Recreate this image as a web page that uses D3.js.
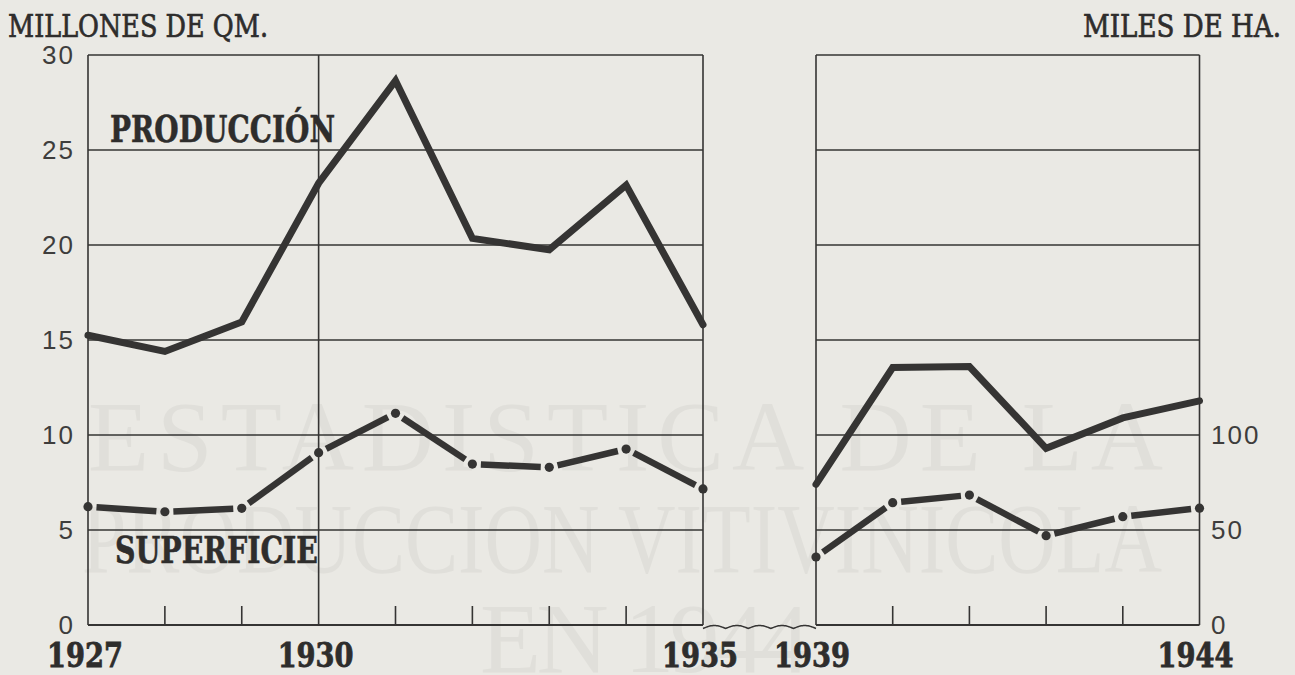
<!DOCTYPE html>
<html>
<head>
<meta charset="utf-8">
<script src="https://cdn.jsdelivr.net/npm/d3@7"></script>
<style>
  body { margin: 0; background: #eae9e4; }
  svg { display: block; }
</style>
</head>
<body>
<div id="vis"></div>
<script>
// data
const yearsA = [1927, 1928, 1929, 1930, 1931, 1932, 1933, 1934, 1935];
const yearsB = [1939, 1940, 1941, 1942, 1943, 1944];
const produccionA = [15.25, 14.4, 15.95, 23.25, 28.65, 20.35, 19.75, 23.15, 15.8];   // millones de qm
const produccionB = [7.4, 13.55, 13.6, 9.3, 10.9, 11.8];
const superficieA = [62.3, 59.6, 61.4, 90.7, 111.4, 84.7, 83.0, 92.6, 71.6];          // miles de ha
const superficieB = [35.8, 64.4, 68.4, 47.0, 57.0, 61.5];
const leftTicks = [0, 5, 10, 15, 20, 25, 30];
const rightTicks = [0, 50, 100];
const yearLabels = [1927, 1930, 1935, 1939, 1944];

const WIDTH = 1295, HEIGHT = 675;
const INK = "#353433";

const svg = d3.select("#vis").append("svg")
  .attr("width", WIDTH).attr("height", HEIGHT);

svg.append("rect").attr("width", WIDTH).attr("height", HEIGHT).attr("fill", "#eae9e4");

// faint show-through text from the other side of the page
const wm = svg.append("g").attr("fill", "#e0dfda")
  .attr("font-family", "Liberation Serif, serif").attr("font-size", 100);
wm.append("text").attr("x", 88).attr("y", 470).attr("textLength", 1075)
  .attr("lengthAdjust", "spacing").text("ESTADISTICA DE LA");
wm.append("text").attr("x", 82).attr("y", 572).attr("textLength", 1080)
  .attr("lengthAdjust", "spacingAndGlyphs").text("PRODUCCION VITIVINICOLA");
wm.append("text").attr("x", 480).attr("y", 672).attr("textLength", 330)
  .attr("lengthAdjust", "spacing").text("EN 1944");

const xA = d3.scaleLinear().domain([1927, 1935]).range([88, 703]);
const xB = d3.scaleLinear().domain([1939, 1944]).range([816, 1199.5]);
const y = d3.scaleLinear().domain([0, 30]).range([625, 55]);
const yHa = d3.scaleLinear().domain([0, 300]).range([625, 55]);

// panels: grid, frame, ticks
function panel(x, years, midLines) {
  const g = svg.append("g").attr("stroke", INK).attr("fill", "none");
  const [x0, x1] = x.range();
  g.selectAll(".h").data(leftTicks.filter(d => d > 0)).join("line")
    .attr("x1", x0).attr("x2", x1)
    .attr("y1", d => y(d)).attr("y2", d => y(d))
    .attr("stroke-width", 1.6);
  g.append("line").attr("x1", x0).attr("x2", x1).attr("y1", y(0)).attr("y2", y(0)).attr("stroke-width", 1.8);
  g.selectAll(".v").data([x.domain()[0], x.domain()[1]].concat(midLines)).join("line")
    .attr("x1", d => x(d)).attr("x2", d => x(d))
    .attr("y1", y(30)).attr("y2", y(0))
    .attr("stroke-width", 1.6);
  g.selectAll(".t").data(years.slice(1, -1).filter(d => !midLines.includes(d))).join("line")
    .attr("x1", d => x(d)).attr("x2", d => x(d))
    .attr("y1", y(0)).attr("y2", y(0) - 19)
    .attr("stroke-width", 1.6);
}
panel(xA, yearsA, [1930]);
panel(xB, yearsB, []);

// wavy break between panels
const wx0 = xA(1935), wx1 = xB(1939);
const wave = d3.range(0, 101).map(i => {
  const t = i / 100;
  return [wx0 + t * (wx1 - wx0), y(0) + 3.5 - 3 * Math.abs(Math.sin(t * Math.PI * 5))];
});
svg.append("path").attr("d", d3.line()(wave))
  .attr("fill", "none").attr("stroke", INK).attr("stroke-width", 1.5);

// produccion: thick solid line
const prodLine = (x) => d3.line().x(d => x(d[0])).y(d => y(d[1]));
[[xA, yearsA, produccionA], [xB, yearsB, produccionB]].forEach(([x, yrs, vals]) => {
  svg.append("path").datum(yrs.map((yr, i) => [yr, vals[i]]))
    .attr("d", prodLine(x))
    .attr("fill", "none").attr("stroke", INK)
    .attr("stroke-width", 7).attr("stroke-linejoin", "miter").attr("stroke-linecap", "round");
});

// superficie: broken segments with dots at each year
[[xA, yearsA, superficieA], [xB, yearsB, superficieB]].forEach(([x, yrs, vals]) => {
  const pts = yrs.map((yr, i) => [x(yr), yHa(vals[i])]);
  const gap = 8.5;
  const segs = d3.pairs(pts).map(([a, b]) => {
    const dx = b[0] - a[0], dy = b[1] - a[1], len = Math.hypot(dx, dy);
    const ux = dx / len, uy = dy / len;
    return [a[0] + ux * gap, a[1] + uy * gap, b[0] - ux * gap, b[1] - uy * gap];
  });
  svg.append("g").selectAll("line").data(segs).join("line")
    .attr("x1", d => d[0]).attr("y1", d => d[1])
    .attr("x2", d => d[2]).attr("y2", d => d[3])
    .attr("stroke", INK).attr("stroke-width", 6.5);
  svg.append("g").selectAll("circle").data(pts).join("circle")
    .attr("cx", d => d[0]).attr("cy", d => d[1]).attr("r", 4.6)
    .attr("fill", INK);
});

// axis numbers
const tickFont = "Liberation Sans, Arial, sans-serif";
svg.append("g").selectAll("text").data(leftTicks).join("text")
  .attr("x", 75).attr("y", d => y(d)).attr("dy", "0.35em")
  .attr("text-anchor", "end").attr("font-family", tickFont).attr("font-size", 26)
  .attr("letter-spacing", 2).attr("fill", "#3e3d3c").text(d => d);
svg.append("g").selectAll("text").data(rightTicks).join("text")
  .attr("x", 1211).attr("y", d => yHa(d)).attr("dy", "0.35em")
  .attr("font-family", tickFont).attr("font-size", 26)
  .attr("letter-spacing", 2).attr("fill", "#3e3d3c").text(d => d);

// year labels
svg.append("g").selectAll("text").data(yearLabels).join("text")
  .attr("x", d => d < 1936 ? xA(d) - 3 : xB(d) - 4)
  .attr("y", 667)
  .attr("text-anchor", "middle")
  .attr("font-family", "DejaVu Serif, serif").attr("font-weight", "bold").attr("font-size", 33)
  .attr("textLength", 76).attr("lengthAdjust", "spacingAndGlyphs")
  .attr("fill", "#2e2d2c").attr("stroke", "#2e2d2c").attr("stroke-width", 0.8)
  .text(d => d);

// titles
svg.append("text").attr("x", 8).attr("y", 37)
  .attr("font-family", "DejaVu Serif, serif").attr("font-size", 31)
  .attr("textLength", 260).attr("lengthAdjust", "spacingAndGlyphs")
  .attr("fill", "#2e2d2c").attr("stroke", "#2e2d2c").attr("stroke-width", 0.7)
  .text("MILLONES DE QM.");
svg.append("text").attr("x", 1083).attr("y", 37)
  .attr("font-family", "DejaVu Serif, serif").attr("font-size", 31)
  .attr("textLength", 198).attr("lengthAdjust", "spacingAndGlyphs")
  .attr("fill", "#2e2d2c").attr("stroke", "#2e2d2c").attr("stroke-width", 0.7)
  .text("MILES DE HA.");

svg.append("text").attr("x", 110).attr("y", 142)
  .attr("font-family", "DejaVu Serif, serif").attr("font-weight", "bold").attr("font-size", 38)
  .attr("textLength", 225).attr("lengthAdjust", "spacingAndGlyphs")
  .attr("fill", "#2e2d2c").attr("stroke", "#2e2d2c").attr("stroke-width", 0.6)
  .text("PRODUCCIÓN");
svg.append("text").attr("x", 115).attr("y", 563)
  .attr("font-family", "DejaVu Serif, serif").attr("font-weight", "bold").attr("font-size", 38)
  .attr("textLength", 203).attr("lengthAdjust", "spacingAndGlyphs")
  .attr("fill", "#2e2d2c").attr("stroke", "#2e2d2c").attr("stroke-width", 0.6)
  .text("SUPERFICIE");
</script>
</body>
</html>
